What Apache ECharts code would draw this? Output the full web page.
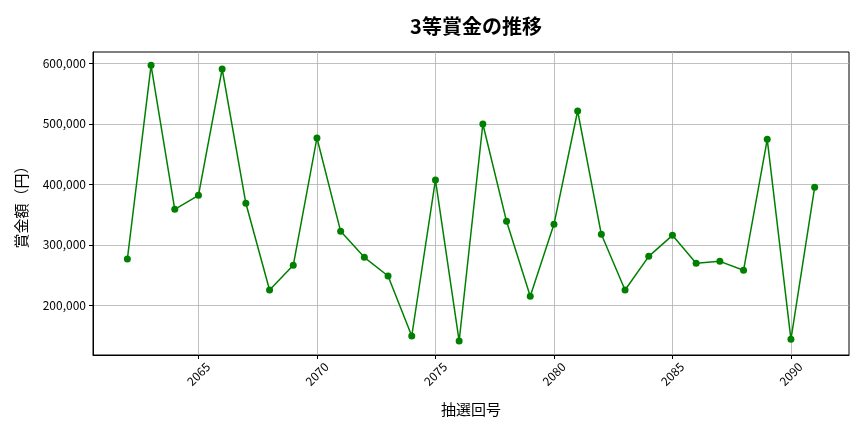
<!DOCTYPE html>
<html>
<head>
<meta charset="utf-8">
<script src="https://cdn.jsdelivr.net/npm/echarts@6/dist/echarts.min.js"></script>
<style>
html, body { margin: 0; padding: 0; background: #fff; }
#chart { width: 864px; height: 432px; }
</style>
</head>
<body>
<div id="chart"></div>
<script>
var draws = [2062, 2063, 2064, 2065, 2066, 2067, 2068, 2069, 2070, 2071,
             2072, 2073, 2074, 2075, 2076, 2077, 2078, 2079, 2080, 2081,
             2082, 2083, 2084, 2085, 2086, 2087, 2088, 2089, 2090, 2091];
var prizes = [276600, 596700, 358700, 381800, 590600, 368600, 225300, 266100, 476600, 322300,
              279300, 248500, 149300, 407200, 141000, 499700, 338800, 214900, 333900, 521200,
              317400, 225300, 281000, 315700, 269400, 272700, 257900, 474400, 143800, 395000];
var xTicks = [2065, 2070, 2075, 2080, 2085, 2090];
var yTicks = [200000, 300000, 400000, 500000, 600000];

var font = '"Noto Sans CJK JP", "Noto Sans", sans-serif';

function fmt(v) {
    return Math.round(v).toString().replace(/\B(?=(\d{3})+(?!\d))/g, ',');
}

var points = [];
for (var i = 0; i < draws.length; i++) {
    points.push([draws[i], prizes[i]]);
}

var myChart = echarts.init(document.getElementById('chart'));
var option = {
    backgroundColor: '#fff',
    animation: false,
    title: {
        text: '3等賞金の推移',
        left: 471,
        top: 11,
        textAlign: 'center',
        textStyle: { fontFamily: font, fontSize: 20, fontWeight: 'bold', color: '#000' }
    },
    grid: { left: 93, right: 15, top: 52, bottom: 77, show: true, borderColor: '#000', borderWidth: 1, backgroundColor: 'transparent' },
    xAxis: {
        type: 'value',
        min: 2060.55,
        max: 2092.45,
        name: '抽選回号',
        nameLocation: 'middle',
        nameGap: 47,
        nameTextStyle: { fontFamily: font, fontSize: 15, color: '#000' },
        axisLine: { onZero: false, lineStyle: { color: '#000', width: 1 } },
        axisTick: { show: true, length: 4, lineStyle: { color: '#000' }, customValues: xTicks },
        axisLabel: {
            customValues: xTicks,
            rotate: 45,
            align: 'center',
            verticalAlign: 'middle',
            fontFamily: font, fontSize: 12, color: '#000', margin: 19,
            formatter: function (v) { return String(v); }
        },
        splitLine: { show: true, lineStyle: { color: '#b0b0b0', width: 0.8 } }
    },
    yAxis: {
        type: 'value',
        min: 117900,
        max: 618700,
        name: '賞金額（円）',
        nameLocation: 'middle',
        nameGap: 64,
        nameTextStyle: { fontFamily: font, fontSize: 15, color: '#000' },
        axisLine: { show: true, lineStyle: { color: '#000', width: 1 } },
        axisTick: { show: true, length: 4, lineStyle: { color: '#000' }, customValues: yTicks },
        axisLabel: {
            customValues: yTicks,
            fontFamily: font, fontSize: 12, color: '#000', margin: 7,
            formatter: fmt
        },
        splitLine: { show: true, lineStyle: { color: '#b0b0b0', width: 0.8 } }
    },
    series: [{
        type: 'line',
        data: points,
        symbol: 'circle',
        symbolSize: 7,
        itemStyle: { color: '#008000' },
        lineStyle: { color: '#008000', width: 1.5 }
    }]
};
myChart.setOption(option);
</script>
</body>
</html>
